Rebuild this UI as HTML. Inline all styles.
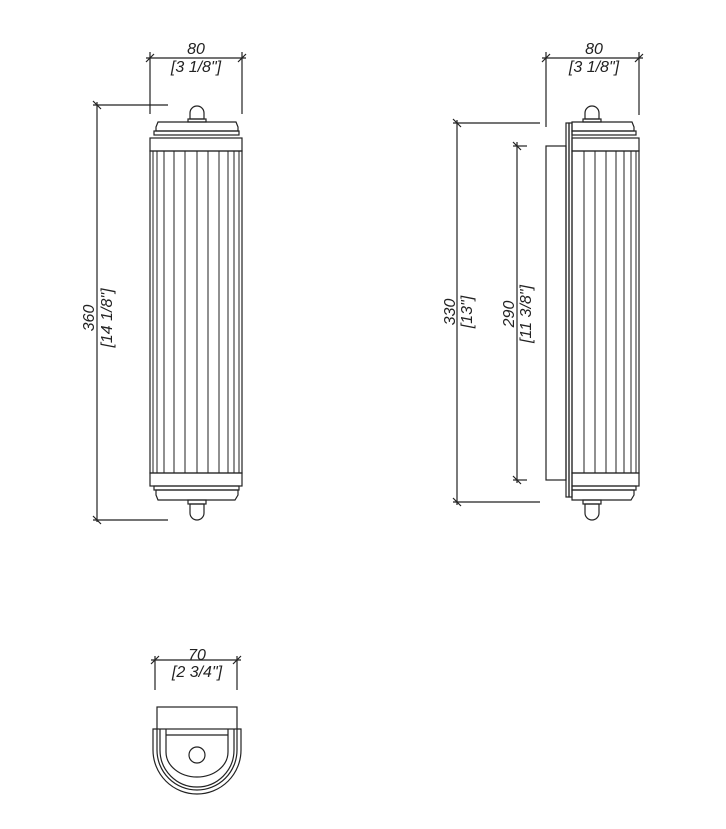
<!DOCTYPE html>
<html><head><style>body{margin:0;background:#fff}svg{display:block}text{font-family:"Liberation Sans",sans-serif;font-style:italic;fill:#222}</style></head><body>
<svg width="726" height="829" viewBox="0 0 726 829" stroke="#222" fill="none" stroke-width="1.2">
<!-- LEFT LAMP -->
<line x1="150" y1="52" x2="150" y2="114"/><line x1="242" y1="52" x2="242" y2="114"/>
<line x1="146" y1="58" x2="246" y2="58"/>
<line x1="146" y1="62" x2="154" y2="54"/><line x1="238" y1="62" x2="246" y2="54"/>
<text x="196" y="54" font-size="16" text-anchor="middle" stroke="none">80</text>
<text x="196" y="72" font-size="16" text-anchor="middle" stroke="none">[3 1/8"]</text>
<line x1="97" y1="102" x2="97" y2="522"/>
<line x1="93" y1="105" x2="168" y2="105"/><line x1="93" y1="520" x2="168" y2="520"/>
<line x1="93" y1="101" x2="101" y2="109"/><line x1="93" y1="516" x2="101" y2="524"/>
<text transform="translate(94,318) rotate(-90)" font-size="16" text-anchor="middle" stroke="none">360</text>
<text transform="translate(112,318) rotate(-90)" font-size="16" text-anchor="middle" stroke="none">[14 1/8"]</text>
<path d="M190 119 L190 113 A7 7 0 1 1 204 113 L204 119 Z"/><rect x="188" y="119" width="18" height="3"/>
<path d="M158 122 L236 122 L238 127 L238 131 L156 131 L156 127 Z"/>
<rect x="154" y="131" width="85" height="4"/>
<rect x="150" y="138" width="92" height="13"/>
<rect x="150" y="151" width="92" height="322"/>
<g stroke-width="1">
<line x1="153" y1="151" x2="153" y2="473"/><line x1="157" y1="151" x2="157" y2="473"/><line x1="164" y1="151" x2="164" y2="473"/><line x1="174" y1="151" x2="174" y2="473"/><line x1="185" y1="151" x2="185" y2="473"/><line x1="197" y1="151" x2="197" y2="473"/><line x1="208" y1="151" x2="208" y2="473"/><line x1="219" y1="151" x2="219" y2="473"/><line x1="228" y1="151" x2="228" y2="473"/><line x1="234" y1="151" x2="234" y2="473"/><line x1="239" y1="151" x2="239" y2="473"/>
</g>
<rect x="150" y="473" width="92" height="13"/>
<rect x="154" y="486" width="85" height="4"/>
<path d="M156 490 L238 490 L238 495 L235 500 L158 500 L156 495 Z"/>
<rect x="188" y="500" width="18" height="4"/><path d="M190 504 L204 504 L204 513 A7 7 0 0 1 190 513 Z"/>
<!-- RIGHT LAMP -->
<line x1="546" y1="52" x2="546" y2="127"/><line x1="639" y1="52" x2="639" y2="115"/>
<line x1="542" y1="58" x2="643" y2="58"/>
<line x1="542" y1="62" x2="550" y2="54"/><line x1="635" y1="62" x2="643" y2="54"/>
<text x="594" y="54" font-size="16" text-anchor="middle" stroke="none">80</text>
<text x="594" y="72" font-size="16" text-anchor="middle" stroke="none">[3 1/8"]</text>
<line x1="457" y1="120" x2="457" y2="505"/>
<line x1="453" y1="123" x2="540" y2="123"/><line x1="453" y1="502" x2="540" y2="502"/>
<line x1="453" y1="119" x2="461" y2="127"/><line x1="453" y1="498" x2="461" y2="506"/>
<text transform="translate(455,312) rotate(-90)" font-size="16" text-anchor="middle" stroke="none">330</text>
<text transform="translate(472,312) rotate(-90)" font-size="16" text-anchor="middle" stroke="none">[13"]</text>
<line x1="517" y1="142" x2="517" y2="483"/>
<line x1="513" y1="146" x2="527" y2="146"/><line x1="513" y1="480" x2="527" y2="480"/>
<line x1="513" y1="142" x2="521" y2="150"/><line x1="513" y1="476" x2="521" y2="484"/>
<text transform="translate(514,314) rotate(-90)" font-size="16" text-anchor="middle" stroke="none">290</text>
<text transform="translate(531,314) rotate(-90)" font-size="16" text-anchor="middle" stroke="none">[11 3/8"]</text>
<rect x="546" y="146" width="20" height="334"/>
<rect x="566" y="123" width="3" height="374"/><rect x="569" y="123" width="3" height="374"/>
<path d="M585 119 L585 113 A7 7 0 1 1 599 113 L599 119 Z"/><rect x="583" y="119" width="18" height="3"/>
<path d="M572 122 L632 122 L634 127 L634 131 L572 131 Z"/>
<rect x="572" y="131" width="64" height="4"/>
<rect x="572" y="138" width="67" height="13"/>
<rect x="572" y="151" width="67" height="322"/>
<g stroke-width="1">
<line x1="584" y1="151" x2="584" y2="473"/><line x1="595" y1="151" x2="595" y2="473"/><line x1="606" y1="151" x2="606" y2="473"/><line x1="616" y1="151" x2="616" y2="473"/><line x1="624" y1="151" x2="624" y2="473"/><line x1="631" y1="151" x2="631" y2="473"/><line x1="636" y1="151" x2="636" y2="473"/>
</g>
<rect x="572" y="473" width="67" height="13"/>
<rect x="572" y="486" width="64" height="4"/>
<path d="M572 490 L634 490 L634 495 L631 500 L572 500 Z"/>
<rect x="583" y="500" width="18" height="4"/><path d="M585 504 L599 504 L599 513 A7 7 0 0 1 585 513 Z"/>
<!-- BOTTOM VIEW -->
<line x1="155" y1="656" x2="155" y2="690"/><line x1="237" y1="656" x2="237" y2="690"/>
<line x1="151" y1="660" x2="241" y2="660"/>
<line x1="151" y1="664" x2="159" y2="656"/><line x1="233" y1="664" x2="241" y2="656"/>
<text x="197" y="660" font-size="16" text-anchor="middle" stroke="none">70</text>
<text x="197" y="677" font-size="16" text-anchor="middle" stroke="none">[2 3/4"]</text>
<rect x="157" y="707" width="80" height="22"/>
<path d="M157 729 L153 729 L153 750 A44 44 0 0 0 241 750 L241 729 L237 729"/>
<path d="M157 729 L157 750 A40 40 0 0 0 237 750 L237 729"/>
<path d="M160 729 L160 750 A37 37 0 0 0 234 750 L234 729"/>
<path d="M166 735 L228 735"/>
<path d="M166 735 L166 752 A31 25 0 0 0 228 752 L228 735"/>
<line x1="166" y1="729" x2="166" y2="735"/><line x1="228" y1="729" x2="228" y2="735"/>
<circle cx="197" cy="755" r="8"/>
</svg>
</body></html>
